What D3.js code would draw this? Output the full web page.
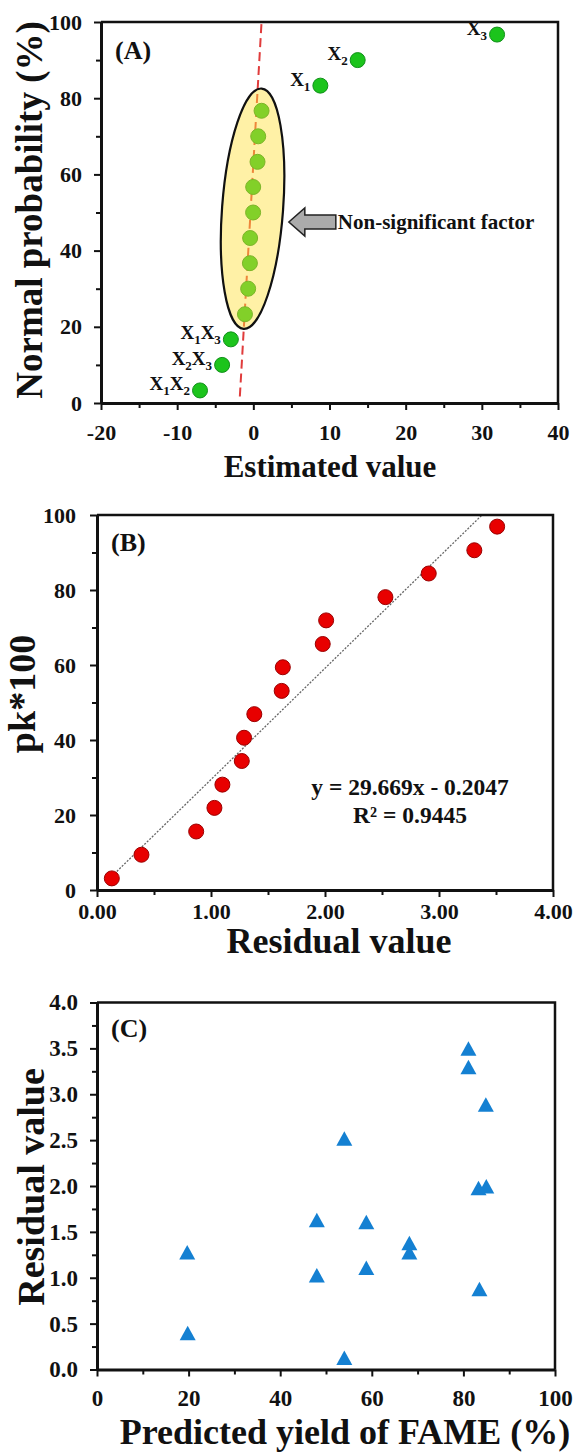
<!DOCTYPE html>
<html>
<head>
<meta charset="utf-8">
<script src="https://cdn.jsdelivr.net/npm/d3@7"></script>
<style>
  body { margin: 0; background: #fff; }
  text { font-family: "Liberation Serif", "Times New Roman", serif; font-weight: bold; fill: #111; }
</style>
</head>
<body>
<svg id="chart" width="574" height="1453"></svg>
<script>
// (A) normal probability plot of effects
var effectNames = ["X1X2", "X2X3", "X1X3", "", "", "", "", "", "", "", "", "", "X1", "X2", "X3"];
var effectValues = [-7.0, -4.1, -2.95, -1.1, -0.68, -0.45, -0.42, -0.03, -0.02, 0.55, 0.64, 1.08, 8.8, 13.7, 32.0];
var effectProb = [3.3, 10.0, 16.7, 23.3, 30.0, 36.7, 43.3, 50.0, 56.7, 63.3, 70.0, 76.7, 83.3, 90.0, 96.7];
var refLineX = [-1.77, 1.08];
var refLineY = [1.7, 100];

// (B) residual normal plot
var pkResidual = [0.13, 0.39, 0.87, 1.03, 1.10, 1.27, 1.29, 1.38, 1.62, 1.63, 1.98, 2.01, 2.53, 2.91, 3.31, 3.51];
var pkValue = [3.1, 9.4, 15.6, 21.9, 28.1, 34.4, 40.6, 46.9, 53.1, 59.4, 65.6, 71.9, 78.1, 84.4, 90.6, 96.9];
var trendSlope = 29.669;
var trendIntercept = -0.2047;
var trendLabels = ["y = 29.669x - 0.2047", "R\u00b2 = 0.9445"];

// (C) residual vs predicted
var fameYield = [19.7, 19.8, 48.0, 48.0, 54.0, 54.0, 58.8, 58.8, 68.2, 68.2, 81.1, 81.1, 83.3, 83.5, 84.9, 85.0];
var fameResidual = [1.27, 0.39, 1.62, 1.02, 0.12, 2.51, 1.60, 1.10, 1.37, 1.27, 3.49, 3.29, 1.97, 0.87, 2.88, 1.99];

var svg = d3.select("#chart");
var plainFmt = function (spec) {
    var f = d3.format(spec);
    return function (d) { return f(d).replace("\u2212", "-"); };
};

var drawFrame = function (g, x, y, cfg) {
    var x0 = x.range()[0], x1 = x.range()[1], y0 = y.range()[0], y1 = y.range()[1];
    // minor ticks
    g.append("g").attr("transform", "translate(0," + y0 + ")")
        .call(d3.axisBottom(x).tickValues(cfg.xMinor).tickSize(5).tickFormat(""))
        .call(function (a) { a.select(".domain").remove(); a.selectAll("line").attr("stroke", "#111").attr("stroke-width", 2); });
    g.append("g").attr("transform", "translate(" + x0 + ",0)")
        .call(d3.axisLeft(y).tickValues(cfg.yMinor).tickSize(5).tickFormat(""))
        .call(function (a) { a.select(".domain").remove(); a.selectAll("line").attr("stroke", "#111").attr("stroke-width", 2); });
    // major ticks + labels
    var xa = g.append("g").attr("transform", "translate(0," + y0 + ")")
        .call(d3.axisBottom(x).tickValues(cfg.xTicks).tickSize(7).tickSizeOuter(0).tickPadding(cfg.xPad).tickFormat(cfg.xFmt));
    var ya = g.append("g").attr("transform", "translate(" + x0 + ",0)")
        .call(d3.axisLeft(y).tickValues(cfg.yTicks).tickSize(7).tickSizeOuter(0).tickPadding(cfg.yPad).tickFormat(cfg.yFmt));
    [xa, ya].forEach(function (a) {
        a.attr("font-family", null).attr("font-size", null);
        a.select(".domain").attr("stroke", "#111").attr("stroke-width", 3);
        a.selectAll("line").attr("stroke", "#111").attr("stroke-width", 2);
        a.selectAll("text").attr("font-size", cfg.tickFont).attr("fill", "#111");
    });
    // top and right border
    g.append("path")
        .attr("d", "M" + x0 + "," + y1 + "H" + x1 + "V" + y0)
        .attr("fill", "none").attr("stroke", "#111").attr("stroke-width", 2.5);
    g.append("text").attr("x", x0 + 14).attr("y", y1 + cfg.tagDy)
        .attr("font-size", cfg.tagFont).text(cfg.tag);
    g.append("text").attr("x", cfg.xTitleX).attr("y", cfg.xTitleY)
        .attr("text-anchor", "middle").attr("font-size", cfg.xTitleFont).text(cfg.xTitle);
    g.append("text").attr("transform", "translate(" + cfg.yTitleX + "," + cfg.yTitleY + ") rotate(-90)")
        .attr("text-anchor", "middle").attr("font-size", cfg.yTitleFont).text(cfg.yTitle);
};

var subLabel = function (sel, label) {
    // "X1X3" -> X with subscript digits
    label.split("").forEach(function (ch) {
        if (/[0-9]/.test(ch)) {
            sel.append("tspan").attr("font-size", 13).attr("dy", 5).text(ch);
        } else {
            sel.append("tspan").attr("font-size", 19).attr("dy", sel.selectAll("tspan").size() ? -5 : 0).text(ch);
        }
    });
};

// ---------- panel A ----------
var xA = d3.scaleLinear().domain([-20, 40]).range([101, 558]);
var yA = d3.scaleLinear().domain([0, 100]).range([403, 22]);
var gA = svg.append("g");

gA.append("line")
    .attr("x1", xA(refLineX[0])).attr("y1", yA(refLineY[0]))
    .attr("x2", xA(refLineX[1])).attr("y2", yA(refLineY[1]))
    .attr("stroke", "#e03c3c").attr("stroke-width", 2).attr("stroke-dasharray", "9,5");

var ptsA = effectValues.map(function (v, i) { return {x: v, y: effectProb[i], name: effectNames[i]}; });
gA.selectAll("circle.eff").data(ptsA).enter().append("circle").attr("class", "eff")
    .attr("cx", function (d) { return xA(d.x); })
    .attr("cy", function (d) { return yA(d.y); })
    .attr("r", 7.5)
    .attr("fill", "#1cc41c").attr("stroke", "#11901a").attr("stroke-width", 1);

// non-significant group ellipse (drawn over the points, translucent)
var ellCx = xA(-0.1), ellCy = yA(51);
gA.append("ellipse")
    .attr("transform", "translate(" + ellCx + "," + ellCy + ") rotate(4.3)")
    .attr("rx", 30.5).attr("ry", 120.5)
    .attr("fill", "#ffdf3a").attr("fill-opacity", 0.45)
    .attr("stroke", "#111").attr("stroke-width", 2.2);

ptsA.filter(function (d) { return d.name; }).forEach(function (d) {
    var t = gA.append("text")
        .attr("x", xA(d.x) - 10).attr("y", yA(d.y) + 5)
        .attr("text-anchor", "end");
    subLabel(t, d.name);
});

// arrow + note
var arX = xA(4.66), arY = yA(47.5);
gA.append("path")
    .attr("d", "M" + arX + "," + arY + "l16,-14v7h31v14h-31v7z")
    .attr("fill", "#ababab").attr("stroke", "#222").attr("stroke-width", 1.5);
gA.append("text").attr("x", arX + 49).attr("y", arY + 7)
    .attr("font-size", 21).text("Non-significant factor");

drawFrame(gA, xA, yA, {
    xTicks: d3.range(-20, 41, 10), xMinor: d3.range(-15, 40, 10),
    yTicks: d3.range(0, 101, 20), yMinor: d3.range(10, 100, 20),
    xFmt: plainFmt("d"), yFmt: plainFmt("d"),
    xPad: 14, yPad: 12, tickFont: 22,
    tag: "(A)", tagDy: 37, tagFont: 26,
    xTitle: "Estimated value", xTitleX: 330, xTitleY: 477, xTitleFont: 31,
    yTitle: "Normal probability (%)", yTitleX: 42, yTitleY: 210, yTitleFont: 37
});

// ---------- panel B ----------
var xB = d3.scaleLinear().domain([0, 4]).range([97, 553]);
var yB = d3.scaleLinear().domain([0, 100]).range([890, 515]);
var gB = svg.append("g");

gB.append("clipPath").attr("id", "clipB").append("rect")
    .attr("x", 97).attr("y", 515).attr("width", 456).attr("height", 375);
var xMinB = d3.min(pkResidual), xMaxB = d3.max(pkResidual);
gB.append("line").attr("clip-path", "url(#clipB)")
    .attr("x1", xB(xMinB)).attr("y1", yB(trendSlope * xMinB + trendIntercept))
    .attr("x2", xB(xMaxB)).attr("y2", yB(trendSlope * xMaxB + trendIntercept))
    .attr("stroke", "#666").attr("stroke-width", 1.3).attr("stroke-dasharray", "2,1.5");

gB.selectAll("circle").data(pkResidual).enter().append("circle")
    .attr("cx", function (d) { return xB(d); })
    .attr("cy", function (d, i) { return yB(pkValue[i]); })
    .attr("r", 7.5)
    .attr("fill", "#e80000").attr("stroke", "#9a0000").attr("stroke-width", 1);

gB.selectAll("text.eq").data(trendLabels).enter().append("text").attr("class", "eq")
    .attr("x", 410).attr("y", function (d, i) { return 795 + i * 28; })
    .attr("text-anchor", "middle").attr("font-size", 23.5).text(function (d) { return d; });

drawFrame(gB, xB, yB, {
    xTicks: d3.range(0, 4.01, 1), xMinor: [0.5, 1.5, 2.5, 3.5],
    yTicks: d3.range(0, 101, 20), yMinor: d3.range(10, 100, 20),
    xFmt: plainFmt(".2f"), yFmt: plainFmt("d"),
    xPad: 6, yPad: 14, tickFont: 22,
    tag: "(B)", tagDy: 36, tagFont: 26,
    xTitle: "Residual value", xTitleX: 339, xTitleY: 953, xTitleFont: 36,
    yTitle: "pk*100", yTitleX: 35, yTitleY: 694, yTitleFont: 38
});

// ---------- panel C ----------
var xC = d3.scaleLinear().domain([0, 100]).range([97, 555]);
var yC = d3.scaleLinear().domain([0, 4]).range([1369.5, 1002.5]);
var gC = svg.append("g");

gC.selectAll("path.tri").data(fameYield).enter().append("path").attr("class", "tri")
    .attr("transform", function (d, i) { return "translate(" + xC(d) + "," + yC(fameResidual[i]) + ")"; })
    .attr("d", "M0,-8L8,6.5L-8,6.5Z")
    .attr("fill", "#1480d2");

drawFrame(gC, xC, yC, {
    xTicks: d3.range(0, 101, 20), xMinor: d3.range(10, 100, 20),
    yTicks: d3.range(0, 4.01, 0.5), yMinor: d3.range(0.25, 4, 0.5),
    xFmt: plainFmt("d"), yFmt: plainFmt(".1f"),
    xPad: 13, yPad: 12, tickFont: 23,
    tag: "(C)", tagDy: 34, tagFont: 26,
    xTitle: "Predicted yield of FAME (%)", xTitleX: 345, xTitleY: 1444, xTitleFont: 36,
    yTitle: "Residual value", yTitleX: 44, yTitleY: 1187, yTitleFont: 38
});
</script>
</body>
</html>
